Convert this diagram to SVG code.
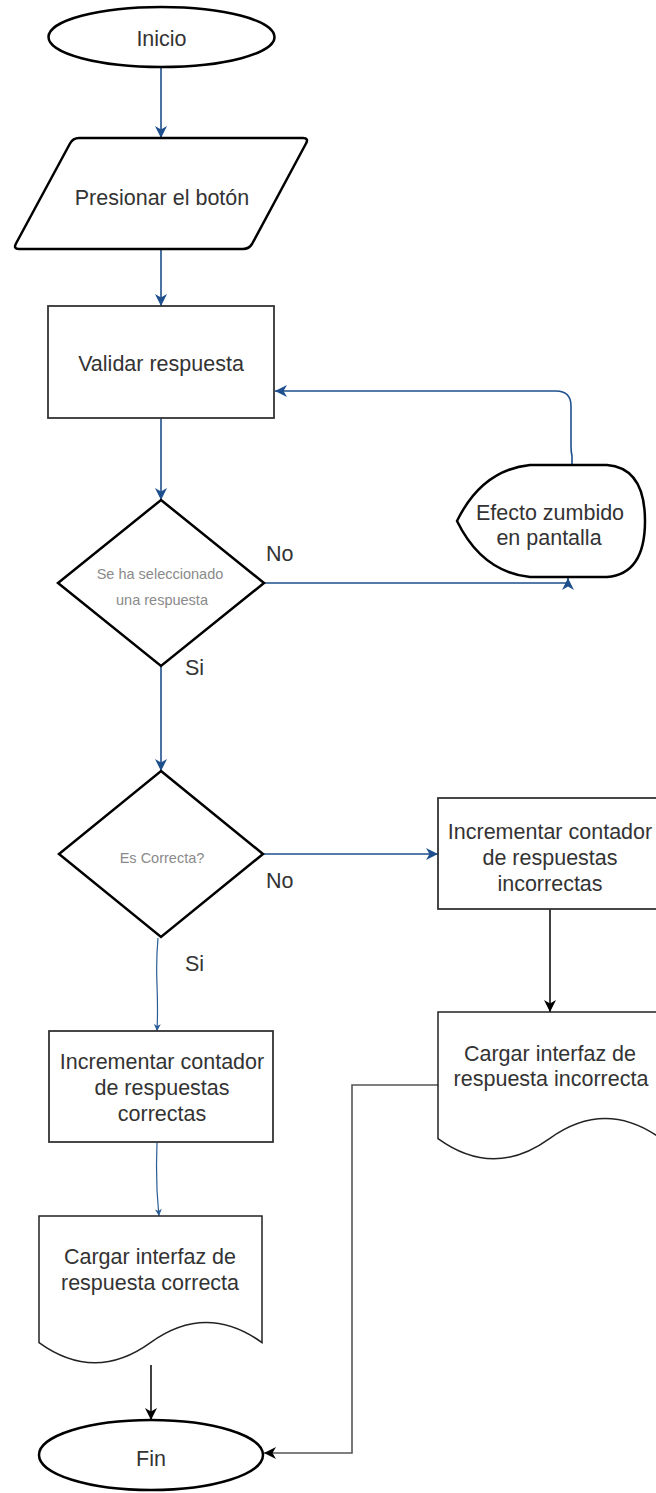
<svg xmlns="http://www.w3.org/2000/svg" width="656" height="1493" viewBox="0 0 656 1493">
  <style>
    .bg { fill: #ffffff; }
    .term { fill: #ffffff; stroke: #000000; stroke-width: 2.5; }
    .proc { fill: #ffffff; stroke: #333333; stroke-width: 1.8; }
    .doc { fill: #ffffff; stroke: #222222; stroke-width: 1.5; }
    .dec { fill: #ffffff; stroke: #000000; stroke-width: 2.5; stroke-linejoin: miter; }
    .lbl { font-family: "Liberation Sans", Arial, sans-serif; font-size: 21.5px; fill: #333333; text-anchor: middle; }
    .edge-lbl { font-family: "Liberation Sans", Arial, sans-serif; font-size: 21.5px; fill: #333333; }
    .small { font-family: "Liberation Sans", Arial, sans-serif; font-size: 14.5px; fill: #8a8a8a; text-anchor: middle; }
    .flow-blue { fill: none; stroke: #1d4f8c; stroke-width: 1.6; marker-end: url(#arrowBlue); }
    .flow-thin { fill: none; stroke: #2a5d96; stroke-width: 1.2; marker-end: url(#arrowBlueSmall); }
    .flow-dark { fill: none; stroke: #111111; stroke-width: 1.6; marker-end: url(#arrowDark); }
    .flow-gray { fill: none; stroke: #555555; stroke-width: 1.6; marker-end: url(#arrowDark); }
  </style>
  <defs>
    <marker id="arrowBlue" viewBox="0 0 12 12" refX="12" refY="6" markerWidth="12" markerHeight="12" markerUnits="userSpaceOnUse" orient="auto">
      <path d="M0,0 L12,6 L0,12 L3.5,6 Z" fill="#1d4f8c"/>
    </marker>
    <marker id="arrowBlueSmall" viewBox="0 0 12 12" refX="12" refY="6" markerWidth="7" markerHeight="7" markerUnits="userSpaceOnUse" orient="auto">
      <path d="M0,0 L12,6 L0,12 L3.5,6 Z" fill="#2a5d96"/>
    </marker>
    <marker id="arrowDark" viewBox="0 0 12 12" refX="12" refY="6" markerWidth="12" markerHeight="12" markerUnits="userSpaceOnUse" orient="auto">
      <path d="M0,0 L12,6 L0,12 L3.5,6 Z" fill="#000000"/>
    </marker>
  </defs>

  <rect class="bg" x="0" y="0" width="656" height="1493"/>

  <!-- connectors -->
  <g id="connectors">
    <path class="flow-blue" d="M161,67 V138"/>
    <path class="flow-blue" d="M161,249 V306"/>
    <path class="flow-blue" d="M161,418 V500"/>
    <path class="flow-blue" d="M264,583 H568 V578"/>
    <path class="flow-blue" d="M572,465 V456 Q571,452 571,446 V406 Q571,391 556,391 H275"/>
    <path class="flow-blue" d="M161,666 V771"/>
    <path class="flow-blue" d="M263,854 H438"/>
    <path class="flow-thin" d="M158,938 Q156,960 157,985 Q158,1010 157,1031"/>
    <path class="flow-thin" d="M157,1142 Q156,1165 157,1190 Q158,1205 159,1216"/>
    <path class="flow-dark" d="M550,909 V1012"/>
    <path class="flow-gray" d="M438,1085 H352 V1453 H264"/>
    <path class="flow-dark" d="M151,1365 V1420"/>
  </g>

  <!-- start -->
  <g id="inicio">
    <ellipse class="term" cx="161.5" cy="37" rx="113" ry="30"/>
    <text class="lbl" x="161.5" y="45.5">Inicio</text>
  </g>

  <!-- input: press the button -->
  <g id="presionar">
    <path class="term" d="M79,138 H303 Q309,138 306,143.5 L252,244 Q249,249 243,249 H19 Q13,249 16,243.5 L70,143.5 Q73,138 79,138 Z"/>
    <text class="lbl" x="162" y="204.5">Presionar el botón</text>
  </g>

  <!-- validate answer -->
  <g id="validar">
    <rect class="proc" x="48" y="306" width="226" height="112"/>
    <text class="lbl" x="161" y="370.5">Validar respuesta</text>
  </g>

  <!-- decision: answer selected? -->
  <g id="seleccionado">
    <polygon class="dec" points="161,500 264,583 161,666 58,583"/>
    <text class="small" x="160" y="579">Se ha seleccionado</text>
    <text class="small" x="162" y="605">una respuesta</text>
  </g>

  <!-- display: buzz effect -->
  <g id="zumbido">
    <path class="term" d="M457,521 Q482,470 530,465 H607 Q645,468 645,521 Q645,574 607,577 H530 Q482,572 457,521 Z"/>
    <text class="lbl" x="550" y="519.5">Efecto zumbido</text>
    <text class="lbl" x="549" y="544.5">en pantalla</text>
  </g>

  <!-- decision: correct? -->
  <g id="correcta">
    <polygon class="dec" points="161,771 263,854 161,937 59,854"/>
    <text class="small" x="162" y="863">Es Correcta?</text>
  </g>

  <!-- edge labels -->
  <g id="labels">
    <text class="edge-lbl" x="266" y="561">No</text>
    <text class="edge-lbl" x="185" y="675">Si</text>
    <text class="edge-lbl" x="266" y="888">No</text>
    <text class="edge-lbl" x="185" y="971">Si</text>
  </g>

  <!-- increment wrong-answer counter -->
  <g id="contador-incorrectas">
    <rect class="proc" x="438" y="798" width="224" height="111"/>
    <text class="lbl" x="550" y="838.5">Incrementar contador</text>
    <text class="lbl" x="550" y="864.5">de respuestas</text>
    <text class="lbl" x="550" y="890.5">incorrectas</text>
  </g>

  <!-- load wrong-answer screen -->
  <g id="interfaz-incorrecta">
    <path class="doc" d="M438,1012 H661 V1138.6 Q605.2,1098.4 549.5,1138.6 Q493.8,1178.9 438,1138.6 Z"/>
    <text class="lbl" x="550" y="1060.5">Cargar interfaz de</text>
    <text class="lbl" x="551" y="1085.5">respuesta incorrecta</text>
  </g>

  <!-- increment right-answer counter -->
  <g id="contador-correctas">
    <rect class="proc" x="49" y="1031" width="224" height="111"/>
    <text class="lbl" x="162" y="1068.5">Incrementar contador</text>
    <text class="lbl" x="162" y="1094.5">de respuestas</text>
    <text class="lbl" x="162" y="1120.5">correctas</text>
  </g>

  <!-- load right-answer screen -->
  <g id="interfaz-correcta">
    <path class="doc" d="M39,1216 H262 V1342.6 Q206.2,1302.4 150.5,1342.6 Q94.8,1382.9 39,1342.6 Z"/>
    <text class="lbl" x="150" y="1264">Cargar interfaz de</text>
    <text class="lbl" x="150" y="1289.5">respuesta correcta</text>
  </g>

  <!-- end -->
  <g id="fin">
    <ellipse class="term" cx="151" cy="1455" rx="112" ry="35"/>
    <text class="lbl" x="151" y="1466">Fin</text>
  </g>
</svg>
